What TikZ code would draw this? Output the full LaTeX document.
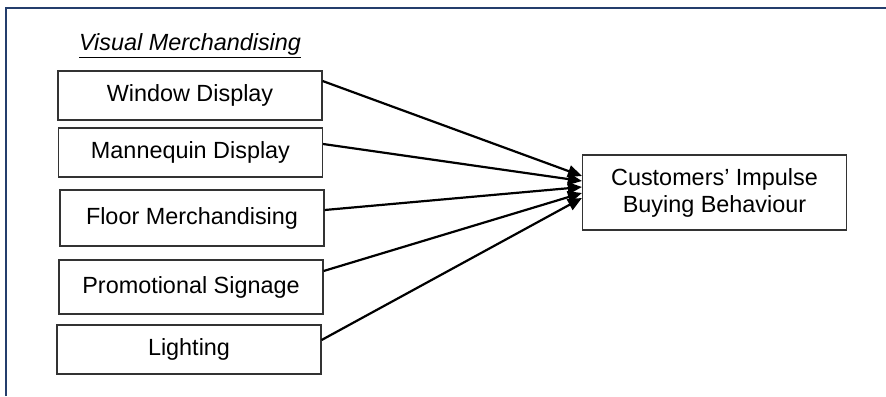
\documentclass[tikz,border=0pt]{standalone}
\usepackage{fontspec}
\setmainfont{Liberation Sans}
\usetikzlibrary{arrows.meta}
\definecolor{framenavy}{RGB}{36,62,108}

\begin{document}
\begin{tikzpicture}[x=0.5pt, y=-0.5pt,
    factor/.style={draw=black!80, line width=0.6pt, inner sep=0pt, minimum width=132pt, font=\fontsize{11.7}{13.5}\selectfont},
    link/.style={line width=1.1pt, -{Triangle[length=7pt, width=6pt]}}]
    \useasboundingbox (0,0) rectangle (886,396);

    \draw[framenavy, line width=1pt] (6,396) -- (6,8) -- (886,8);

    \node[font=\fontsize{11.7}{13.5}\selectfont] (title) at (190,46) {\underline{\textit{Visual Merchandising}}};

    \node[factor, minimum height=24.5pt] (window) at (190,95.5) {Window Display};
    \node[factor, minimum height=24.5pt] (mannequin) at (190.5,152.5) {Mannequin Display};
    \node[factor, minimum height=28pt] (floor) at (192,218) {Floor Merchandising};
    \node[factor, minimum height=27pt] (promo) at (191,287) {Promotional Signage};
    \node[factor, minimum height=24.5pt] (lighting) at (189,349.5) {Lighting};

    \node[factor, minimum height=37.5pt, align=center] (impulse) at (714.5,192.5) {Customers' Impulse\\Buying Behaviour};

    \draw[link] ([yshift=7.25pt]window.east) -- ([yshift=8.25pt]impulse.west);
    \draw[link] ([yshift=4.25pt]mannequin.east) -- ([yshift=5.75pt]impulse.west);
    \draw[link] ([yshift=4pt]floor.east) -- ([yshift=2.75pt]impulse.west);
    \draw[link] ([yshift=8pt]promo.east) -- ([yshift=-0.25pt]impulse.west);
    \draw[link] ([yshift=4.75pt]lighting.east) -- ([yshift=-2.75pt]impulse.west);
\end{tikzpicture}
\end{document}
